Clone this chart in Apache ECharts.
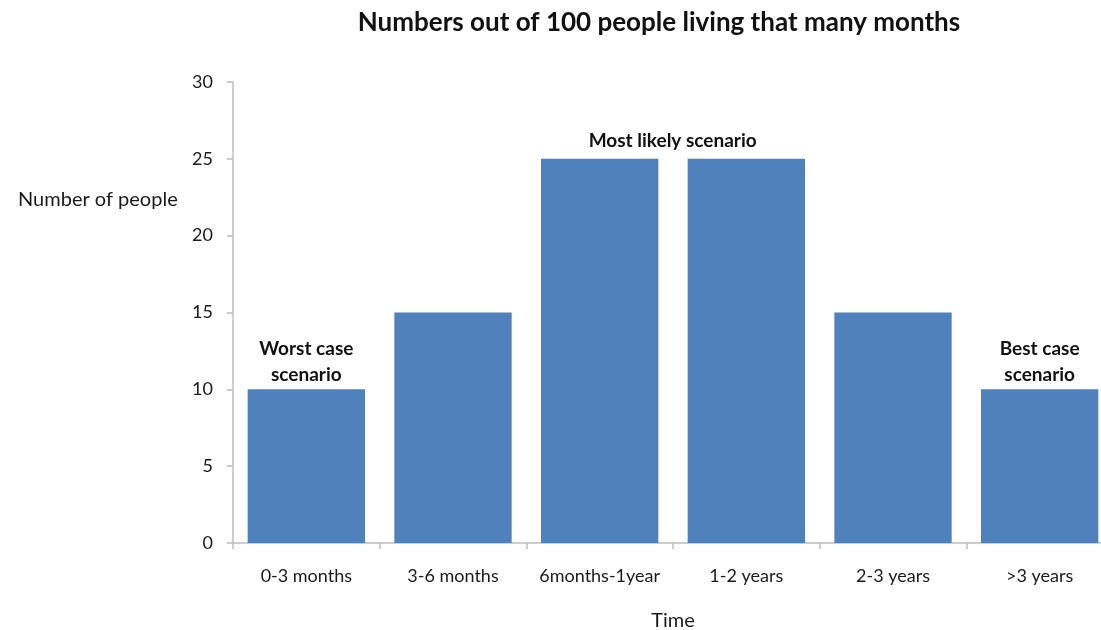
<!DOCTYPE html>
<html>
<head>
<meta charset="utf-8">
<style>
  html, body { margin: 0; padding: 0; background: #ffffff; }
  #chart { width: 1101px; height: 630px; }
</style>
<script src="https://cdn.jsdelivr.net/npm/echarts@6/dist/echarts.min.js"></script>
</head>
<body>
<div id="chart"></div>
<script>
// Survival time bins and how many of 100 people fall in each
const categories = ['0-3 months', '3-6 months', '6months-1year', '1-2 years', '2-3 years', '>3 years'];
const peopleCounts = [10, 15, 25, 25, 15, 10];
const scenarioNotes = ['Worst case\nscenario', '', 'Most likely scenario', '', '', 'Best case\nscenario'];
const yTicks = { min: 0, max: 30, interval: 5 };

const FONT = 'Lato, "Open Sans", sans-serif';
const AXIS_GREY = '#bdbdbd';

const chart = echarts.init(document.getElementById('chart'), null, { renderer: 'canvas' });

const barData = peopleCounts.map((v, i) => {
  const note = scenarioNotes[i];
  const item = { value: v };
  if (note) {
    item.label = {
      show: true,
      position: 'top',
      formatter: note,
      // the central note spans the two tallest bars
      offset: i === 2 ? [73, 0] : [0, 4]
    };
  } else {
    item.label = { show: false };
  }
  return item;
});

chart.setOption({
  animation: false,
  backgroundColor: '#ffffff',
  title: {
    text: 'Numbers out of 100 people living that many months',
    left: 654,
    top: 5,
    textAlign: 'center',
    textStyle: { fontFamily: FONT, fontSize: 26, fontWeight: 'bold', color: '#111111' }
  },
  grid: {
    left: 233, top: 82, width: 880, height: 461,
    containLabel: false,
    outerBoundsMode: 'none'
  },
  xAxis: {
    type: 'category',
    data: categories,
    name: 'Time',
    nameLocation: 'middle',
    nameGap: 68,
    nameTextStyle: { fontFamily: FONT, fontSize: 20, color: '#1a1a1a' },
    axisLine: { lineStyle: { color: AXIS_GREY, width: 1.5 } },
    axisTick: { show: true, interval: 0, length: 6, alignWithLabel: false, lineStyle: { color: AXIS_GREY, width: 1.5 } },
    axisLabel: { interval: 0, fontFamily: FONT, fontSize: 18, color: '#1a1a1a', margin: 24 }
  },
  yAxis: {
    type: 'value',
    min: yTicks.min,
    max: yTicks.max,
    interval: yTicks.interval,
    axisLine: { show: true, lineStyle: { color: AXIS_GREY, width: 1.5 } },
    axisTick: { show: true, length: 6, inside: false, lineStyle: { color: AXIS_GREY, width: 1.5 } },
    splitLine: { show: false },
    axisLabel: { fontFamily: FONT, fontSize: 18, color: '#1a1a1a', margin: 20 }
  },
  graphic: [{
    type: 'text',
    left: 18,
    top: 190,
    style: { text: 'Number of people', font: '20px ' + FONT, fill: '#1a1a1a' }
  }],
  series: [{
    type: 'bar',
    data: barData,
    barCategoryGap: '20%',
    itemStyle: { color: '#4f81bd' },
    label: {
      fontFamily: FONT,
      fontSize: 19,
      fontWeight: 'bold',
      color: '#111111',
      lineHeight: 26,
      align: 'center'
    }
  }]
});
</script>
</body>
</html>
